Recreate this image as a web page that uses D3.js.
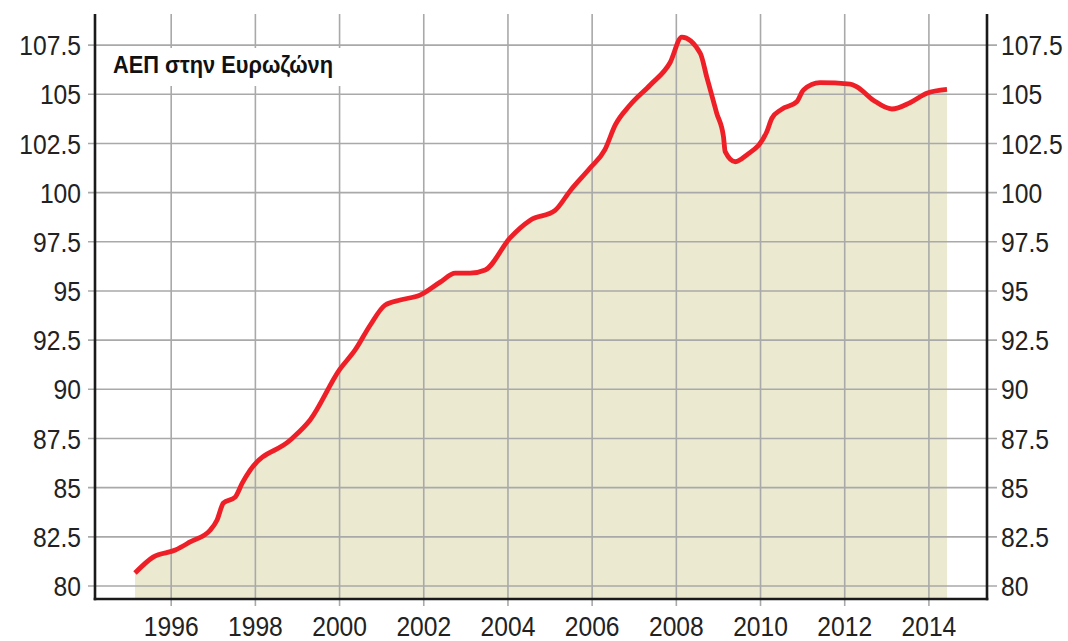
<!DOCTYPE html>
<html><head><meta charset="utf-8">
<script src="https://cdn.jsdelivr.net/npm/d3@7"></script>
<style>body{margin:0;background:#fff}svg{display:block}</style>
</head><body>
<script>
const title = "ΑΕΠ στην Ευρωζώνη";
const years = [1995.14,1995.57,1996.1,1996.45,1996.93,1997.09,1997.24,1997.52,1997.69,1997.88,1998.83,1999.3,2000.0,2000.37,2000.73,2001.08,2001.44,2001.91,2002.39,2002.75,2003.1,2003.46,2004.05,2004.53,2005.12,2005.48,2005.95,2006.3,2006.55,2006.9,2007.38,2007.85,2008.13,2008.57,2008.72,2008.96,2009.12,2009.16,2009.4,2009.67,2010.15,2010.27,2010.5,2010.86,2011.02,2011.41,2012.13,2012.29,2012.68,2013.12,2013.55,2013.95,2014.43];
const gdp = [80.66,81.47,81.83,82.24,82.85,83.36,84.22,84.52,85.24,85.9,87.42,88.44,91.0,92.0,93.27,94.28,94.54,94.79,95.45,95.91,95.91,96.07,97.7,98.6,99.1,100.1,101.25,102.17,103.44,104.45,105.47,106.6,107.9,107.08,105.9,104.03,102.84,102.08,101.57,101.91,103.1,103.78,104.23,104.62,105.22,105.59,105.52,105.38,104.7,104.25,104.57,105.05,105.25];
const yTicks = [80,82.5,85,87.5,90,92.5,95,97.5,100,102.5,105,107.5];
const xTicks = [1996,1998,2000,2002,2004,2006,2008,2010,2012,2014];

const W = 1068, H = 641;
const mL = 95, mR = 987, mT = 14, mB = 599;
const x = d3.scaleLinear().domain([1994.19, 2015.38]).range([mL, mR]);
const y = d3.scaleLinear().domain([79.34, 109.08]).range([mB, mT]);
const data = years.map((t,i)=>({t, v: gdp[i]}));

const svg = d3.select("body").append("svg").attr("width", W).attr("height", H);
const font = "'Liberation Sans',Arial,sans-serif";
const sx = 0.88;

// area
svg.append("path").datum(data)
  .attr("fill", "#ebe9d0")
  .attr("d", d3.area().x(d=>x(d.t)).y0(mB).y1(d=>y(d.v)).curve(d3.curveMonotoneX));

// gridlines
svg.append("g").selectAll("line").data(yTicks).join("line")
  .attr("x1", mL-7).attr("x2", mR+10)
  .attr("y1", d=>y(d)).attr("y2", d=>y(d))
  .attr("stroke", "#a9a9a9").attr("stroke-width", 1.6);
svg.append("g").selectAll("line").data(xTicks).join("line")
  .attr("x1", d=>x(d)).attr("x2", d=>x(d))
  .attr("y1", mT).attr("y2", mB+7)
  .attr("stroke", "#a9a9a9").attr("stroke-width", 1.6);

// title box
svg.append("rect").attr("x", mL+1.5).attr("y", 48).attr("width", 250).attr("height", 38).attr("fill", "#fff");
svg.append("text").attr("x", 113).attr("y", 73).text(title)
  .attr("font-family", font).attr("font-weight", "bold")
  .attr("font-size", 24).attr("textLength", 220).attr("lengthAdjust", "spacingAndGlyphs").attr("fill", "#111");

// line
svg.append("path").datum(data)
  .attr("fill", "none").attr("stroke", "#ee1f26").attr("stroke-width", 4.8)
  .attr("stroke-linejoin", "round").attr("stroke-linecap", "butt")
  .attr("d", d3.line().x(d=>x(d.t)).y(d=>y(d.v)).curve(d3.curveMonotoneX));

// axes lines
const ax = svg.append("g").attr("stroke", "#1a1a1a").attr("stroke-width", 2.6);
ax.append("line").attr("x1", mL).attr("x2", mL).attr("y1", mT).attr("y2", mB+1.3);
ax.append("line").attr("x1", mR).attr("x2", mR).attr("y1", mT).attr("y2", mB+1.3);
ax.append("line").attr("x1", mL-1.3).attr("x2", mR+1.3).attr("y1", mB).attr("y2", mB);

// tick labels (condensed via horizontal scale)
const fmt = d => String(d);
svg.append("g").selectAll("text").data(yTicks).join("text")
  .attr("transform", d=>`translate(81,${y(d)}) scale(${sx},1)`).attr("dy", "0.36em").attr("text-anchor", "end")
  .attr("font-family", font).attr("font-size", 28).attr("fill", "#222").text(fmt);
svg.append("g").selectAll("text").data(yTicks).join("text")
  .attr("transform", d=>`translate(1001,${y(d)}) scale(${sx},1)`).attr("dy", "0.36em").attr("text-anchor", "start")
  .attr("font-family", font).attr("font-size", 28).attr("fill", "#222").text(fmt);
svg.append("g").selectAll("text").data(xTicks).join("text")
  .attr("transform", d=>`translate(${x(d)},636) scale(${sx},1)`).attr("text-anchor", "middle")
  .attr("font-family", font).attr("font-size", 28).attr("fill", "#222").text(fmt);
</script>
</body></html>
